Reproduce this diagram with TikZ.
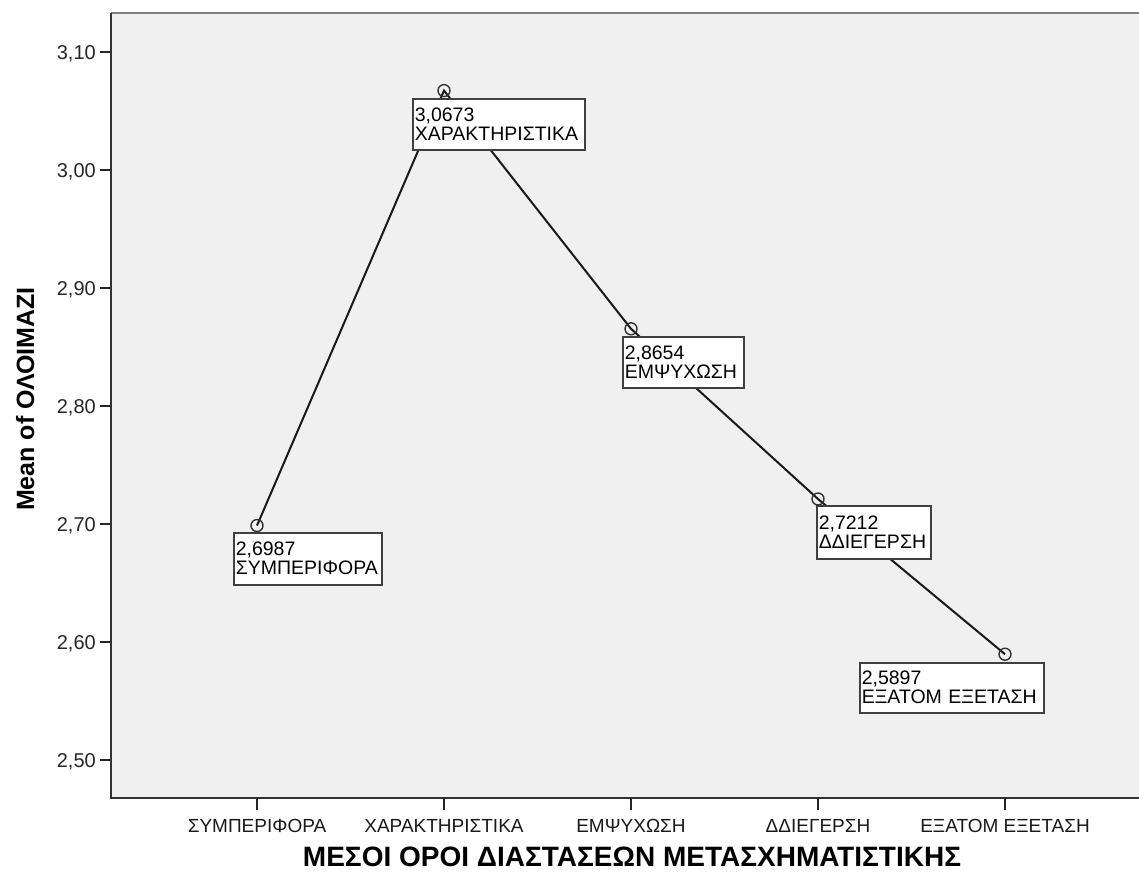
\documentclass[tikz,border=0pt]{standalone}
\usepackage{fontspec}
\setmainfont{Liberation Sans}
\begin{document}
\begin{tikzpicture}[x=1pt,y=-1pt,
  tick/.style={line width=1.5pt,draw=black!85},
  ylab/.style={anchor=east,font=\fontsize{20}{20}\selectfont,text=black!85,inner sep=0pt},
  xlab/.style={anchor=base,font=\fontsize{19}{19}\selectfont,text=black!90,inner sep=0pt},
  valbox/.style={draw=black!75,line width=1.5pt,fill=white,anchor=north west,align=left,
     inner xsep=2pt,inner ysep=0pt,font=\fontsize{19.5}{19}\selectfont},
  marker/.style={circle,draw=black!80,line width=1.4pt,minimum size=12pt,inner sep=0pt},
  dataline/.style={line width=2pt,draw=black!90},
  axtitle/.style={font=\fontsize{25}{25}\selectfont\bfseries,anchor=base,inner sep=0pt}]
\useasboundingbox (0,0) rectangle (1139,876);
% plot area
\fill[black!6] (111,13) rectangle (1141,798);
\draw[line width=2pt,draw=black!50] (111,13) -- (1141,13);
\draw[line width=2pt,draw=black!80] (1141,798) -- (111,798) -- (111,13);
% y ticks
\foreach \v/\lab in {0/{2,50},1/{2,60},2/{2,70},3/{2,80},4/{2,90},5/{3,00},6/{3,10}}{
  \draw[tick] (100,760-118*\v) -- (111,760-118*\v);
  \node[ylab] at (96,762-118*\v) {\lab};
}
% x ticks
\foreach \xx/\lab in {257/ΣΥΜΠΕΡΙΦΟΡΑ,444/ΧΑΡΑΚΤΗΡΙΣΤΙΚΑ,631/ΕΜΨΥΧΩΣΗ,818/ΔΔΙΕΓΕΡΣΗ,1005/ΕΞΑΤΟΜ ΕΞΕΤΑΣΗ}{
  \draw[tick] (\xx,798) -- (\xx,810);
  \node[xlab] at (\xx,832) {\lab};
}
% axis titles
\node[axtitle,font=\fontsize{28}{28}\selectfont\bfseries] (xt) at (632,866) {ΜΕΣΟΙ ΟΡΟΙ ΔΙΑΣΤΑΣΕΩΝ ΜΕΤΑΣΧΗΜΑΤΙΣΤΙΚΗΣ};
\node[axtitle,rotate=90] (yt) at (34,399) {Mean of ΟΛΟΙΜΑΖΙ};
% data
\coordinate (p1) at (257,525.5);
\coordinate (p2) at (444,90.6);
\coordinate (p3) at (631,328.8);
\coordinate (p4) at (818,499);
\coordinate (p5) at (1005,654.2);
\draw[dataline] (p1) -- (p2) -- (p3) -- (p4) -- (p5);
% value boxes
\node[valbox,minimum width=148pt,minimum height=52pt,text width=144pt] (b1) at (233,532) {2,6987\\ΣΥΜΠΕΡΙΦΟΡΑ};
\node[valbox,minimum width=172pt,minimum height=51pt,text width=168pt] (b2) at (412,98) {3,0673\\ΧΑΡΑΚΤΗΡΙΣΤΙΚΑ};
\node[valbox,minimum width=121pt,minimum height=51pt,text width=117pt] (b3) at (622,336) {2,8654\\ΕΜΨΥΧΩΣΗ};
\node[valbox,minimum width=114pt,minimum height=53pt,text width=110pt] (b4) at (816,505) {2,7212\\ΔΔΙΕΓΕΡΣΗ};
\node[valbox,minimum width=184pt,minimum height=50pt,text width=180pt] (b5) at (859,662) {2,5897\\ΕΞΑΤΟΜ ΕΞΕΤΑΣΗ};
% markers
\foreach \i in {1,...,5}{ \node[marker] (m\i) at (p\i) {}; }
\end{tikzpicture}
\end{document}
